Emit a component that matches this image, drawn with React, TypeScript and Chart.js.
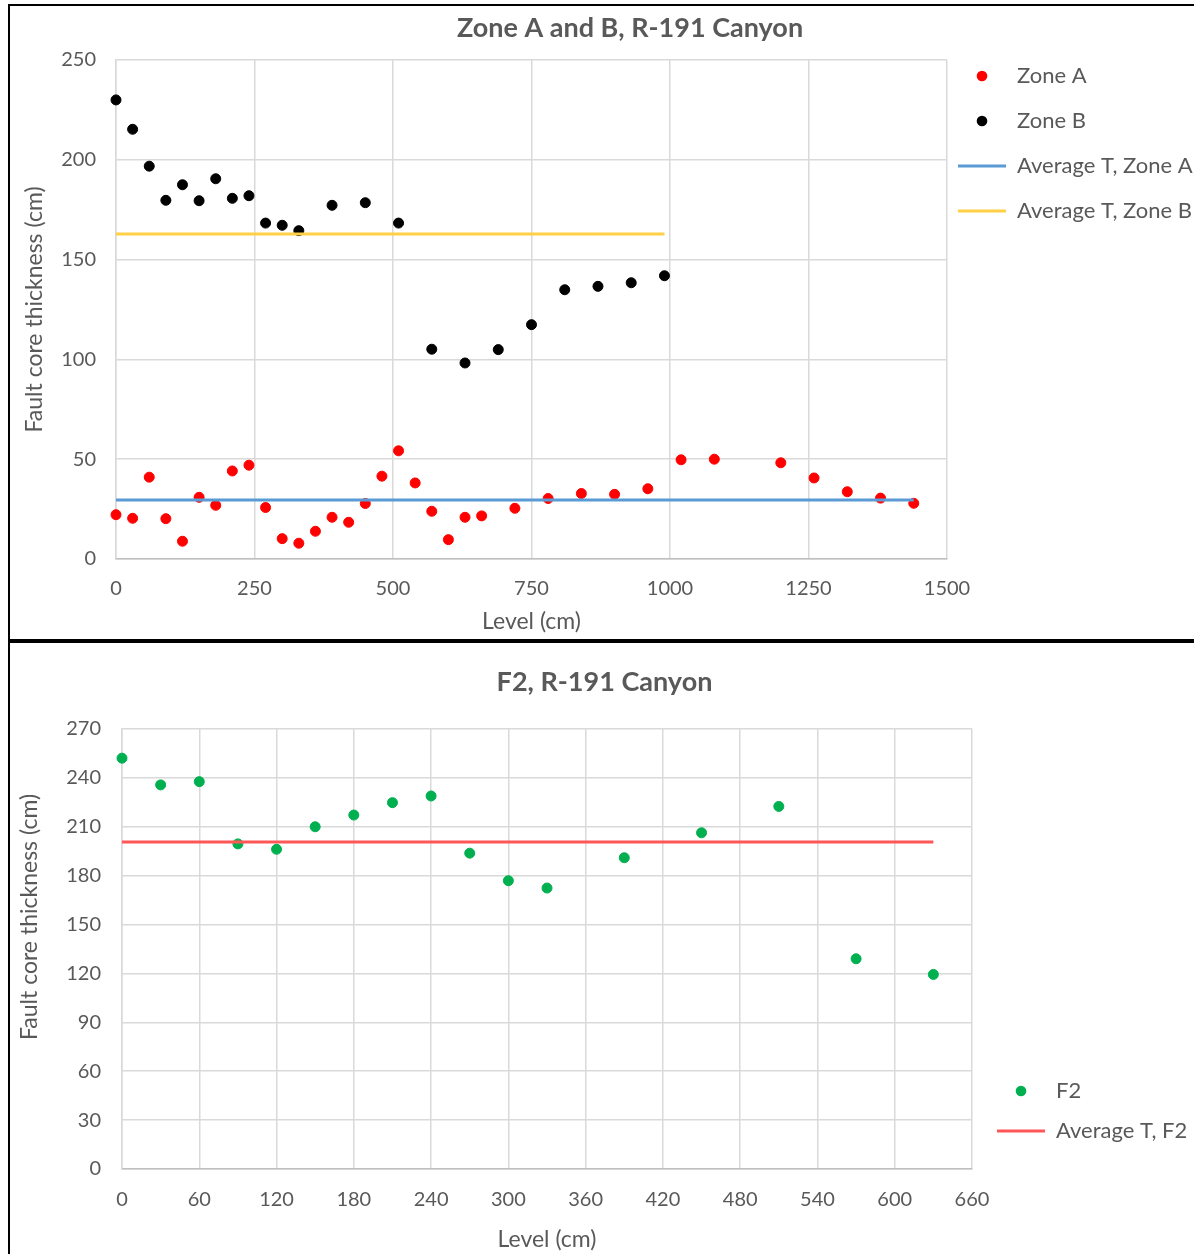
import React, { useEffect, useRef } from 'react';
import { Chart, registerables } from 'chart.js';

Chart.register(...registerables);

const FONT = 'Lato, Carlito, Calibri, sans-serif';
const TEXT = '#595959';
const GRID = '#d9d9d9';
const AXIS = '#bfbfbf';
const Y_TITLE = 'Fault core thickness (cm)';

// ---- Zone A and B, R-191 Canyon ----
const zoneALevels = [0, 30, 60, 90, 120, 150, 180, 210, 240, 270, 300, 330, 360, 390, 420, 450, 480, 510, 540, 570, 600, 630, 660, 720, 780, 840, 900, 960, 1020, 1080, 1200, 1260, 1320, 1380, 1440];
const zoneAThickness = [22.2, 20.4, 41, 20.2, 8.9, 30.9, 26.9, 44.1, 47, 25.8, 10.2, 7.9, 13.9, 20.9, 18.4, 27.8, 41.5, 54.2, 38.1, 23.9, 9.7, 20.9, 21.6, 25.4, 30.3, 32.8, 32.4, 35.2, 49.7, 50, 48.2, 40.6, 33.7, 30.5, 27.9];
const zoneBLevels = [0, 30, 60, 90, 120, 150, 180, 210, 240, 270, 300, 330, 390, 450, 510, 570, 630, 690, 750, 810, 870, 930, 990];
const zoneBThickness = [230, 215.3, 196.8, 179.7, 187.5, 179.5, 190.5, 180.7, 182, 168.3, 167.2, 164.5, 177.2, 178.5, 168.3, 105.1, 98.2, 104.9, 117.4, 134.9, 136.6, 138.4, 141.9];
const zoneAAverage = 29.5;
const zoneAAverageSpan = [0, 1440];
const zoneBAverage = 162.8;
const zoneBAverageSpan = [0, 990];
const zoneXTicks = [0, 250, 500, 750, 1000, 1250, 1500];
const zoneYTicks = [0, 50, 100, 150, 200, 250];

// ---- F2, R-191 Canyon ----
const f2Levels = [0, 30, 60, 90, 120, 150, 180, 210, 240, 270, 300, 330, 390, 450, 510, 570, 630];
const f2Thickness = [252.1, 235.7, 237.7, 199.5, 196.2, 210, 217.2, 224.8, 228.9, 193.8, 176.9, 172.4, 191, 206.3, 222.5, 129, 119.4];
const f2Average = 200.6;
const f2AverageSpan = [0, 630];
const f2XTicks = [0, 60, 120, 180, 240, 300, 360, 420, 480, 540, 600, 660];
const f2YTicks = [0, 30, 60, 90, 120, 150, 180, 210, 240, 270];

const toPoints = (xs: number[], ys: number[]) => xs.map((x, i) => ({ x, y: ys[i] }));
const flatLine = (span: number[], y: number) => span.map((x) => ({ x, y }));

const dotSeries = (label: string, color: string, data: { x: number; y: number }[]) => ({
  label,
  data,
  showLine: false,
  clip: false as const,
  order: 1,
  borderColor: color,
  backgroundColor: color,
  borderWidth: 1,
  pointStyle: 'circle',
  pointRadius: 5,
  pointHoverRadius: 5,
  pointBackgroundColor: color,
  pointBorderColor: color,
  pointBorderWidth: 1,
});

const averageSeries = (label: string, color: string, data: { x: number; y: number }[]) => ({
  label,
  data,
  showLine: true,
  clip: false as const,
  order: 0,
  borderColor: color,
  backgroundColor: color,
  borderWidth: 3,
  pointStyle: 'line',
  pointRadius: 0,
  pointHoverRadius: 0,
  pointBorderColor: color,
  pointBorderWidth: 3,
});

// Small round marker used for the dot entries of the legend.
const legendDot = (color: string) => {
  const c = document.createElement('canvas');
  c.width = 12;
  c.height = 12;
  const ctx = c.getContext('2d');
  if (ctx) {
    ctx.fillStyle = color;
    ctx.beginPath();
    ctx.arc(6, 6, 5.3, 0, Math.PI * 2);
    ctx.fill();
  }
  return c;
};

const legendLabels = (chart: any) => {
  const base = Chart.defaults.plugins.legend.labels.generateLabels(chart);
  return base
    .map((item: any) =>
      item.pointStyle === 'circle' ? { ...item, pointStyle: legendDot(item.fillStyle as string) } : item
    )
    .sort((a: any, b: any) => a.datasetIndex - b.datasetIndex);
};

// Moves the legend block to a fixed spot beside the plot.
const placeLegend = (left: number, top: number) => ({
  id: 'placeLegend',
  afterLayout(chart: any) {
    const lg = chart.legend;
    if (!lg) return;
    const w = lg.width;
    const h = lg.height;
    lg.left = left;
    lg.top = top;
    lg.right = left + w;
    lg.bottom = top + h;
  },
});

// Rotated value-axis caption drawn at a given centre point.
const sideTitle = (text: string, x: number, y: number) => ({
  id: 'sideTitle',
  afterDraw(chart: any) {
    const ctx = chart.ctx;
    ctx.save();
    ctx.translate(x, y);
    ctx.rotate(-Math.PI / 2);
    ctx.font = `23px ${FONT}`;
    ctx.fillStyle = TEXT;
    ctx.textAlign = 'center';
    ctx.textBaseline = 'middle';
    ctx.fillText(text, 0, 0);
    ctx.restore();
  },
});

type Frame = {
  yWidth: number;
  yTickPad: number;
  yTitlePad: number;
  yTitleBuiltIn: boolean;
  xHeight: number;
  xTickPad: number;
  xTitlePad: number;
  rightGap: number;
  titlePadTop: number;
  titlePadBottom: number;
  legendPad: number;
};

const buildOptions = (title: string, xTicks: number[], yTicks: number[], f: Frame): any => ({
  responsive: false,
  animation: false,
  events: [],
  layout: { padding: 0 },
  plugins: {
    title: {
      display: true,
      text: title,
      color: TEXT,
      font: { family: FONT, size: 27, weight: 'bold' },
      padding: { top: f.titlePadTop, bottom: f.titlePadBottom },
    },
    legend: {
      position: 'chartArea',
      align: 'start',
      labels: {
        usePointStyle: true,
        pointStyleWidth: 48,
        boxHeight: 7,
        padding: f.legendPad,
        color: TEXT,
        font: { family: FONT, size: 22 },
        generateLabels: legendLabels,
      },
    },
    tooltip: { enabled: false },
  },
  scales: {
    x: {
      type: 'linear',
      min: xTicks[0],
      max: xTicks[xTicks.length - 1],
      afterBuildTicks: (s: any) => {
        s.ticks = xTicks.map((value) => ({ value }));
      },
      afterFit: (s: any) => {
        s.height = f.xHeight;
      },
      ticks: {
        color: TEXT,
        font: { family: FONT, size: 20 },
        padding: f.xTickPad,
        maxRotation: 0,
        autoSkip: false,
        callback: (v: any) => String(v),
      },
      grid: { color: GRID, lineWidth: 1.5, drawTicks: false },
      border: { color: AXIS, width: 1.5 },
      title: {
        display: true,
        text: 'Level (cm)',
        color: TEXT,
        font: { family: FONT, size: 23 },
        padding: { top: 0, bottom: f.xTitlePad },
      },
    },
    y: {
      type: 'linear',
      min: yTicks[0],
      max: yTicks[yTicks.length - 1],
      afterBuildTicks: (s: any) => {
        s.ticks = yTicks.map((value) => ({ value }));
      },
      afterFit: (s: any) => {
        s.width = f.yWidth;
      },
      ticks: {
        color: TEXT,
        font: { family: FONT, size: 20 },
        padding: f.yTickPad,
        autoSkip: false,
        callback: (v: any) => String(v),
      },
      grid: { color: GRID, lineWidth: 1.5, drawTicks: false },
      border: { color: GRID, width: 1.5 },
      title: {
        display: f.yTitleBuiltIn,
        text: Y_TITLE,
        color: TEXT,
        font: { family: FONT, size: 23 },
        padding: { top: f.yTitlePad, bottom: 0 },
      },
    },
    // empty strip on the right that holds the legend
    legendSpace: {
      type: 'linear',
      axis: 'y',
      position: 'right',
      display: true,
      ticks: { display: false },
      grid: { display: false, drawOnChartArea: false, drawTicks: false },
      border: { display: false },
      title: { display: false },
      afterFit: (s: any) => {
        s.width = f.rightGap;
      },
    },
  },
});

const zoneConfig = (): any => ({
  type: 'scatter',
  data: {
    datasets: [
      dotSeries('Zone A', '#ff0000', toPoints(zoneALevels, zoneAThickness)),
      dotSeries('Zone B', '#000000', toPoints(zoneBLevels, zoneBThickness)),
      averageSeries('Average T, Zone A', '#5b9bd5', flatLine(zoneAAverageSpan, zoneAAverage)),
      averageSeries('Average T, Zone B', '#ffd045', flatLine(zoneBAverageSpan, zoneBAverage)),
    ],
  },
  options: buildOptions('Zone A and B, R-191 Canyon', zoneXTicks, zoneYTicks, {
    yWidth: 106,
    yTickPad: 20,
    yTitlePad: 11.2,
    yTitleBuiltIn: true,
    xHeight: 80,
    xTickPad: 18,
    xTitlePad: 3.2,
    rightGap: 303,
    titlePadTop: 5.8,
    titlePadBottom: 15.8,
    legendPad: 23,
  }),
  plugins: [placeLegend(925, 36)],
});

const f2Config = (): any => ({
  type: 'scatter',
  data: {
    datasets: [
      dotSeries('F2', '#00b050', toPoints(f2Levels, f2Thickness)),
      averageSeries('Average T, F2', '#ff5757', flatLine(f2AverageSpan, f2Average)),
    ],
  },
  options: buildOptions('F2, R-191 Canyon', f2XTicks, f2YTicks, {
    yWidth: 112,
    yTickPad: 21,
    yTitlePad: 6.2,
    yTitleBuiltIn: false,
    xHeight: 114,
    xTickPad: 19,
    xTitlePad: 29.2,
    rightGap: 227,
    titlePadTop: 22.8,
    titlePadBottom: 30.8,
    legendPad: 18,
  }),
  plugins: [placeLegend(969, 419), sideTitle(Y_TITLE, 20, 274)],
});

function ChartCanvas({ config, width, height }: { config: () => any; width: number; height: number }) {
  const ref = useRef<HTMLCanvasElement | null>(null);
  useEffect(() => {
    if (!ref.current) return;
    const chart = new Chart(ref.current, config());
    return () => chart.destroy();
  }, [config]);
  return <canvas ref={ref} width={width} height={height} style={{ display: 'block', width, height }} />;
}

export default function App() {
  return (
    <div
      style={{
        position: 'absolute',
        left: 0,
        top: 0,
        width: 1194,
        height: 1254,
        overflow: 'hidden',
        background: '#fff',
      }}
    >
      <div
        style={{
          position: 'absolute',
          left: 8,
          top: 4,
          width: 1240,
          height: 633,
          border: '2px solid #000',
          background: '#fff',
        }}
      >
        <ChartCanvas config={zoneConfig} width={1240} height={633} />
      </div>
      <div
        style={{
          position: 'absolute',
          left: 8,
          top: 641,
          width: 1189,
          height: 640,
          border: '2px solid #000',
          background: '#fff',
        }}
      >
        <ChartCanvas config={f2Config} width={1189} height={640} />
      </div>
    </div>
  );
}
